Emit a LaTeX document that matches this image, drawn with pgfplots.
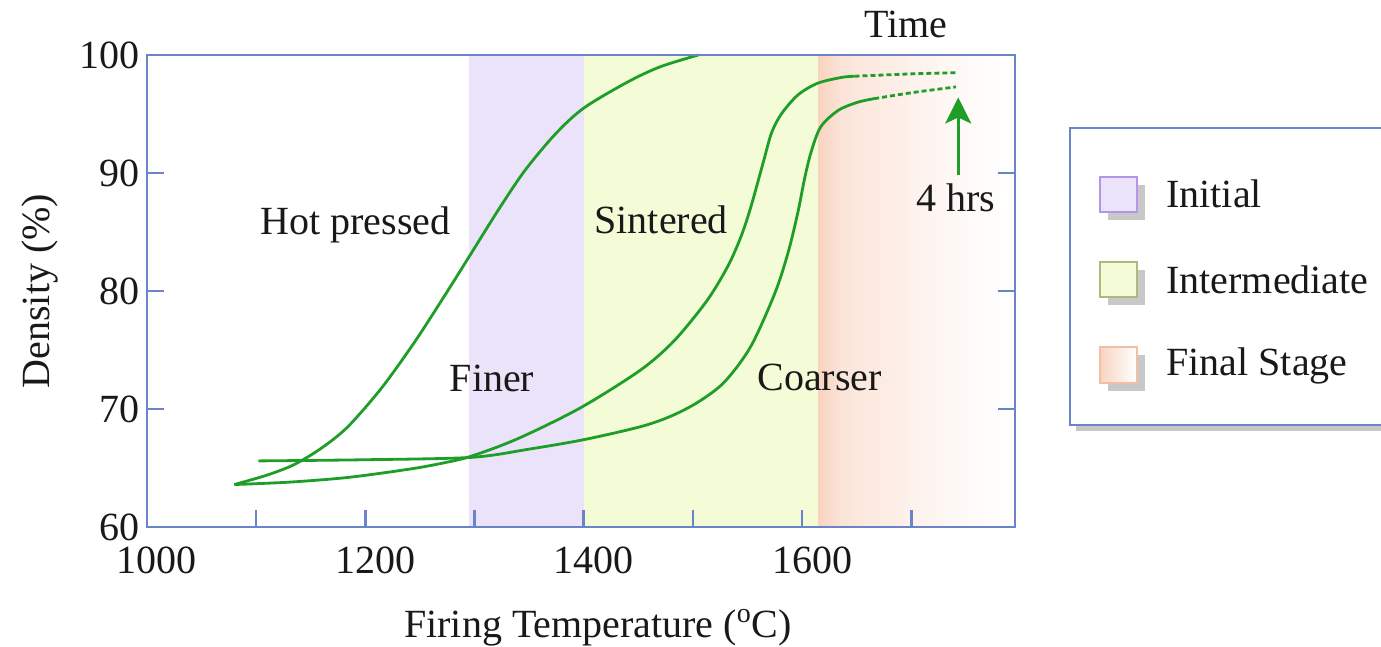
\documentclass[border=0pt]{standalone}
\usepackage{fontspec}
\setmainfont{Liberation Serif}
\usepackage{pgfplots}
\pgfplotsset{compat=1.18}
\usetikzlibrary{arrows.meta}
\definecolor{axcol}{RGB}{105,132,200}
\definecolor{grn}{RGB}{30,158,40}
\definecolor{inifill}{RGB}{234,227,250}
\definecolor{intfill}{RGB}{243,252,214}
\definecolor{finA}{RGB}{249,212,192}
\definecolor{finB}{RGB}{251,228,216}
\definecolor{iniedge}{RGB}{180,150,230}
\definecolor{intedge}{RGB}{181,181,126}
\definecolor{finedge}{RGB}{243,190,165}
\definecolor{shad}{RGB}{200,200,200}
\definecolor{txt}{RGB}{25,25,25}
\pgfdeclarehorizontalshading{finshade}{100bp}{color(0bp)=(finA); color(25bp)=(finA); color(31bp)=(finB); color(50bp)=(white!55!finB); color(65bp)=(white!85!finB); color(75bp)=(white); color(100bp)=(white)}
\pgfdeclarehorizontalshading{legshade}{100bp}{color(0bp)=(finA); color(25bp)=(finA); color(75bp)=(white); color(100bp)=(white)}
\newcommand{\fs}{\fontsize{20bp}{24bp}\selectfont}
\begin{document}
\begin{tikzpicture}
\useasboundingbox (-73.5bp,-60bp) rectangle (617bp,263.5bp);
\begin{axis}[
  at={(0,0)}, anchor=south west,
  scale only axis, width=434bp, height=236bp,
  xmin=1000, xmax=1795, ymin=60, ymax=100,
  axis on top,
  axis line style={axcol, line width=1.3bp},
  every tick/.style={axcol, line width=1.3bp},
  tick align=inside,
  major tick length=8.5bp,
  xtick={1000,1100,...,1700},
  xticklabels={1000,,1200,,1400,,1600,},
  xtick pos=bottom,
  ytick={60,70,80,90,100},
  ytick pos=both,
  /pgf/number format/assume math mode=true,
  tick label style={font=\fs, text=txt},
  xticklabel style={xshift=5bp, yshift=-6.5bp},
  xlabel={Firing Temperature (\textsuperscript{o}C)},
  ylabel={Density (\%)},
  label style={font=\fs, text=txt},
  xlabel style={at={(axis description cs:0.5196,-0.214)}, anchor=center},
  ylabel style={at={(axis description cs:-0.1233,0.5)}, anchor=center},
  clip=false,
]
% stage regions
\addplot[draw=none, fill=inifill] coordinates {(1295,60)(1400,60)(1400,100)(1295,100)} -- cycle;
\addplot[draw=none, fill=intfill] coordinates {(1400,60)(1615,60)(1615,100)(1400,100)} -- cycle;
\addplot[draw=none, shading=finshade] coordinates {(1615,60)(1795,60)(1795,100)(1615,100)} -- cycle;
% hot pressed
\addplot[grn, line width=1.4bp, smooth] coordinates {
(1080,63.6)(1110,64.4)(1135,65.3)(1160,66.7)(1184,68.5)(1215,71.8)(1246,75.8)(1276,80.1)(1297,83.2)(1322,86.9)(1346,90.2)(1374,93.3)(1400,95.5)(1440,97.7)(1470,99.0)(1505,100)};
% sintered, finer
\addplot[grn, line width=1.4bp, smooth] coordinates {
(1080,63.6)(1130,63.8)(1184,64.2)(1240,64.9)(1270,65.4)(1297,66.0)(1340,67.5)(1397,70.1)(1452,73.3)(1483,75.8)(1513,79.2)(1532,82.1)(1544,84.6)(1553,87.1)(1565,91.1)(1572,93.4)(1581,95.0)(1596,96.6)(1614,97.6)(1636,98.1)(1648,98.2)};
\addplot[grn, line width=1.4bp, dash pattern=on 2.5bp off 1.5bp, smooth] coordinates {
(1648,98.2)(1700,98.4)(1741,98.5)};
% sintered, coarser
\addplot[grn, line width=1.4bp, smooth] coordinates {
(1102,65.6)(1200,65.7)(1297,65.9)(1350,66.6)(1400,67.4)(1452,68.5)(1480,69.4)(1505,70.6)(1529,72.3)(1553,75.3)(1575,79.8)(1587,83.2)(1596,86.6)(1602,89.4)(1608,91.7)(1617,93.9)(1633,95.3)(1651,96.0)(1666,96.3)};
\addplot[grn, line width=1.4bp, dash pattern=on 2.5bp off 1.5bp, smooth] coordinates {
(1666,96.3)(1700,96.8)(1741,97.3)};
% time arrow
\addplot[grn, line width=1.4bp, -{Stealth[length=13bp,width=13bp,inset=3bp]}] coordinates {(1743,89.8)(1743,96.4)};
% annotations
\node[font=\fs, text=txt] at (axis cs:1191,85.6) {Hot pressed};
\node[font=\fs, text=txt] at (axis cs:1316,72.6) {Finer};
\node[font=\fs, text=txt] at (axis cs:1471,86.0) {Sintered};
\node[font=\fs, text=txt] at (axis cs:1616,72.7) {Coarser};
\node[font=\fs, text=txt] at (axis cs:1741,87.9) {4 hrs};
\node[font=\fs, text=txt] at (axis cs:1695,102.6) {Time};
\end{axis}
% legend box
\fill[shad] (464.5bp,48bp) rectangle (620bp,196.5bp);
\fill[white] (461.5bp,51bp) rectangle (620bp,199.5bp);
\draw[axcol, line width=1.2bp] (620bp,199.5bp) -- (461.5bp,199.5bp) -- (461.5bp,51bp) -- (620bp,51bp);
% swatches
\fill[shad] (480.5bp,153.5bp) rectangle (499bp,171bp);
\filldraw[fill=inifill, draw=iniedge, line width=1bp] (476.5bp,157.5bp) rectangle (495bp,175bp);
\fill[shad] (480.5bp,111bp) rectangle (499bp,128.5bp);
\filldraw[fill=intfill, draw=intedge, line width=1bp] (476.5bp,115bp) rectangle (495bp,132.5bp);
\fill[shad] (480.5bp,68bp) rectangle (499bp,86bp);
\shade[shading=legshade] (476.5bp,72bp) rectangle (495bp,90bp);
\draw[finedge, line width=1bp] (476.5bp,72bp) rectangle (495bp,90bp);
\node[font=\fs, text=txt, anchor=west, inner sep=0pt] at (509.5bp,166.5bp) {Initial};
\node[font=\fs, text=txt, anchor=west, inner sep=0pt] at (509.5bp,123.5bp) {Intermediate};
\node[font=\fs, text=txt, anchor=west, inner sep=0pt] at (509.5bp,80.5bp) {Final Stage};
\end{tikzpicture}
\end{document}
